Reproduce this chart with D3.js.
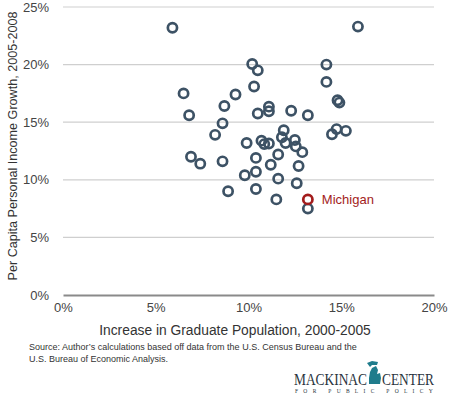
<!DOCTYPE html>
<html>
<head>
<meta charset="utf-8">
<script src="https://cdn.jsdelivr.net/npm/d3@7"></script>
<style>
  body { margin: 0; background: #fff; }
  svg { display: block; font-family: Arial, "Liberation Sans", sans-serif; }
</style>
</head>
<body>
<div id="chart"></div>
<script>
// graduate population increase (%) and income growth (%) per state
const gradGrowth = [5.9, 15.9, 10.2, 10.5, 10.3, 6.5, 9.3, 6.8, 8.7, 8.6, 8.2, 10.5, 11.1, 11.1, 12.3, 13.2,
  14.2, 14.2, 14.8, 14.9, 14.5, 14.75, 15.25, 11.9, 11.8, 9.9, 10.7, 10.85, 11.1, 12.0, 12.5, 12.55,
  12.9, 11.6, 11.2, 10.4, 10.4, 12.7, 11.6, 12.6, 10.4, 11.5, 13.2, 9.8, 8.9, 6.9, 7.4, 8.6];
const incomeGrowth = [23.2, 23.3, 20.05, 19.5, 18.1, 17.5, 17.4, 15.6, 16.4, 14.9, 13.9, 15.75, 16.35, 15.95, 16.0, 15.6,
  20.0, 18.5, 16.9, 16.7, 13.95, 14.4, 14.25, 14.3, 13.7, 13.2, 13.4, 13.1, 13.15, 13.2, 13.45, 12.9,
  12.4, 12.2, 11.3, 11.9, 10.7, 11.2, 10.1, 9.7, 9.2, 8.3, 7.5, 10.4, 9.0, 12.0, 11.4, 11.6];
const michigan = {name: 'Michigan', x: 13.2, y: 8.3};
const xTicks = [0, 5, 10, 15, 20];
const yTicks = [0, 5, 10, 15, 20, 25];

const width = 454, height = 396;
const x = d3.scaleLinear().domain([0, 20]).range([63, 434]);
const y = d3.scaleLinear().domain([0, 25]).range([295, 7]);

const svg = d3.select('#chart').append('svg')
  .attr('width', width)
  .attr('height', height);

// gridlines
svg.append('g')
  .selectAll('line')
  .data(yTicks.filter(d => d > 0))
  .join('line')
  .attr('x1', x(0)).attr('x2', x(20))
  .attr('y1', d => y(d)).attr('y2', d => y(d))
  .attr('stroke', '#cfcfcf')
  .attr('stroke-width', 1.2);

// y axis labels
const yAxis = svg.append('g')
  .attr('transform', `translate(${x(0)},0)`)
  .call(d3.axisLeft(y).tickValues(yTicks).tickFormat(d => d + '%').tickSize(0).tickPadding(14));
yAxis.select('.domain').remove();
yAxis.selectAll('text').attr('font-size', 13).attr('fill', '#444').attr('font-family', 'Arial, "Liberation Sans", sans-serif');

// x axis
const xAxis = svg.append('g')
  .attr('transform', `translate(0,${y(0)})`)
  .call(d3.axisBottom(x).tickValues(xTicks).tickFormat(d => d + '%').tickSize(0).tickPadding(8));
xAxis.select('.domain').attr('stroke', '#8a8a8a').attr('stroke-width', 2.2);
xAxis.selectAll('text').attr('font-size', 13).attr('fill', '#444').attr('font-family', 'Arial, "Liberation Sans", sans-serif');

// titles
svg.append('text')
  .attr('x', 235).attr('y', 335)
  .attr('text-anchor', 'middle')
  .attr('font-size', 13.8).attr('fill', '#333')
  .text('Increase in Graduate Population, 2000-2005');

svg.append('text')
  .attr('transform', 'translate(17,146) rotate(-90)')
  .attr('text-anchor', 'middle')
  .attr('font-size', 12.6).attr('fill', '#333')
  .text('Per Capita Personal Income Growth, 2005-2008');

// source note
svg.append('text')
  .attr('x', 29).attr('y', 350)
  .attr('font-size', 9).attr('fill', '#333')
  .selectAll('tspan')
  .data(['Source: Author\u2019s calculations based off data from the U.S. Census Bureau and the',
    'U.S. Bureau of Economic Analysis.'])
  .join('tspan')
  .attr('x', 29)
  .attr('dy', (d, i) => i ? 12 : 0)
  .text(d => d);

// points
const points = gradGrowth.map((d, i) => ({x: d, y: incomeGrowth[i]}));
svg.append('g')
  .selectAll('circle')
  .data(points)
  .join('circle')
  .attr('cx', d => x(d.x))
  .attr('cy', d => y(d.y))
  .attr('r', 4.6)
  .attr('fill', 'none')
  .attr('stroke', '#3d5265')
  .attr('stroke-width', 2.7);

svg.append('circle')
  .attr('cx', x(michigan.x))
  .attr('cy', y(michigan.y))
  .attr('r', 4.6)
  .attr('fill', 'none')
  .attr('stroke', '#a31c1c')
  .attr('stroke-width', 2.7);

svg.append('text')
  .attr('x', x(michigan.x) + 14)
  .attr('y', y(michigan.y) + 5)
  .attr('font-size', 13).attr('fill', '#a31c1c')
  .text(michigan.name);

// logo
const logo = svg.append('g');
logo.append('text')
  .attr('x', 294).attr('y', 385)
  .attr('font-family', '"Liberation Serif", "DejaVu Serif", serif')
  .attr('font-size', 17).attr('fill', '#2a3440')
  .attr('textLength', 73).attr('lengthAdjust', 'spacingAndGlyphs')
  .text('MACKINAC');
logo.append('text')
  .attr('x', 382).attr('y', 385)
  .attr('font-family', '"Liberation Serif", "DejaVu Serif", serif')
  .attr('font-size', 17).attr('fill', '#2a3440')
  .attr('textLength', 52).attr('lengthAdjust', 'spacingAndGlyphs')
  .text('CENTER');
logo.append('path')
  .attr('d', 'M367,363 L372,361 L378,362 L377,365 L372,365 L370,367 Z ' +
    'M372,368 L376,366 L378,370 L377,374 L380,373 L381,378 L380,384 L369,384 L369,378 L370,372 Z')
  .attr('fill', '#1f7c8c');
logo.append('text')
  .attr('x', 295).attr('y', 393)
  .attr('font-family', '"Liberation Serif", serif')
  .attr('font-size', 5.5).attr('fill', '#2a3440')
  .attr('letter-spacing', 5.3)
  .text('FOR PUBLIC POLICY');
</script>
</body>
</html>
